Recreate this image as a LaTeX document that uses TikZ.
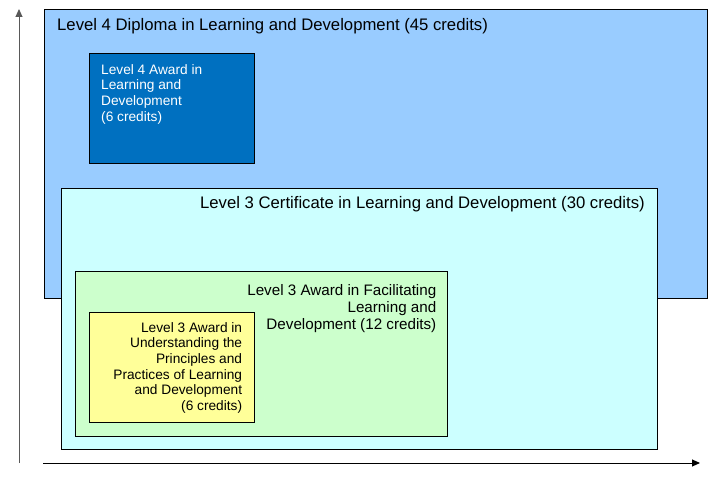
\documentclass[tikz,border=0pt]{standalone}
\usepackage{fontspec}
\setmainfont{Liberation Sans}
\usetikzlibrary{arrows.meta}
\definecolor{diplomablue}{HTML}{99CCFF}
\definecolor{awardblue}{HTML}{0070C0}
\definecolor{certcyan}{HTML}{CCFFFF}
\definecolor{facilgreen}{HTML}{CCFFCC}
\definecolor{undyellow}{HTML}{FFFF99}
\tikzset{
  box/.style={draw=black, line width=0.9pt, rectangle, inner sep=0pt, anchor=north west},
  big/.style={font=\fontsize{16.7}{17}\selectfont, inner sep=0pt},
  mid/.style={font=\fontsize{15.2}{17}\selectfont, inner sep=0pt},
  small/.style={font=\fontsize{13.7}{15.7}\selectfont, inner sep=0pt},
  axis/.style={line width=1pt, -{Triangle[length=8pt,width=7pt]}}
}
\begin{document}
\begin{tikzpicture}[x=1pt,y=-1pt]
\useasboundingbox (0,0) rectangle (726,481);
% boxes
\node[box, fill=diplomablue, minimum width=663pt, minimum height=289pt] (dipl) at (44,9) {};
\node[box, fill=awardblue, minimum width=165pt, minimum height=110pt] (awd4) at (89,53) {};
\node[box, fill=certcyan, minimum width=596pt, minimum height=261pt] (cert) at (61,188) {};
\node[box, fill=facilgreen, minimum width=372pt, minimum height=165pt] (facil) at (75,271) {};
\node[box, fill=undyellow, minimum width=165pt, minimum height=110pt] (under) at (89,312) {};
% texts
\node[big, anchor=base west] (dipltext) at (57,30.7) {Level 4 Diploma in Learning and Development (45 credits)};
\node[small, anchor=north west, align=left, text=white] (awd4text) at (101,64) {Level 4 Award in\\Learning and\\Development\\(6 credits)};
\node[big, anchor=base east] (certtext) at (645,209) {Level 3 Certificate in Learning and Development (30 credits)};
\node[mid, anchor=north east, align=right] (faciltext) at (436.5,284) {Level 3 Award in Facilitating\\Learning and\\Development (12 credits)};
\node[small, anchor=north east, align=right] (undertext) at (242.3,322) {Level 3 Award in\\Understanding the\\Principles and\\Practices of Learning\\and Development\\(6 credits)};
% axes
\coordinate (origin) at (19,463);
\coordinate (ytop) at (19,9);
\coordinate (xleft) at (43,463);
\coordinate (xright) at (700,463);
\draw[axis, gray!70!black] (origin)--(ytop);
\draw[axis] (xleft)--(xright);
\end{tikzpicture}
\end{document}
